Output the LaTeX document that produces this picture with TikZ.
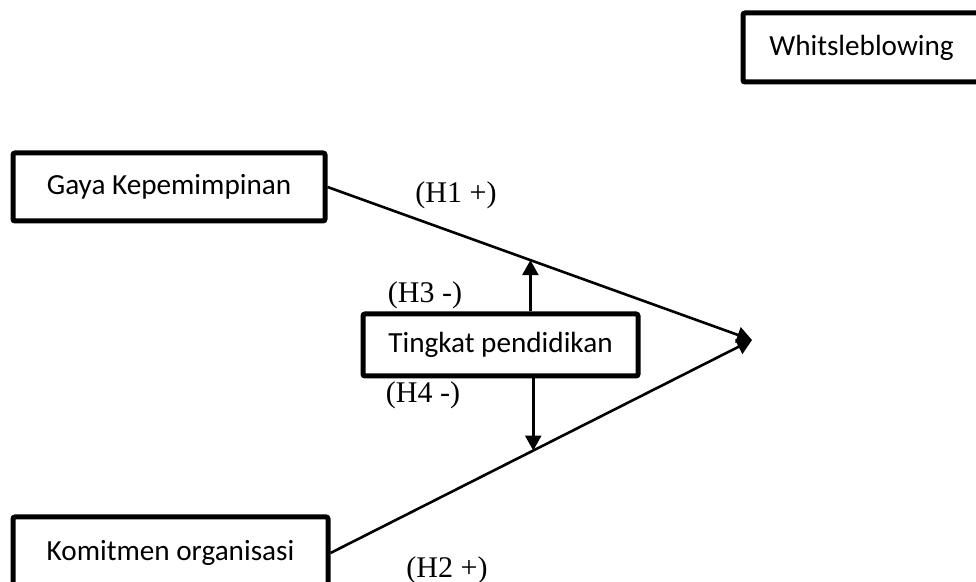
\documentclass[tikz,border=0pt]{standalone}
\usepackage{fontspec}
\setmainfont{Liberation Serif}
\newfontfamily\calibri{Carlito}
\usetikzlibrary{arrows.meta, calc}
\tikzset{
    varbox/.style={
        draw, line width=2.5pt, rounded corners=1pt, inner sep=0pt,
        font=\calibri\fontsize{14.6}{17}\selectfont
    },
    hyp/.style={
        inner sep=0pt, font=\fontsize{15}{18}\selectfont
    },
    link/.style={
        line width=1.3pt, -{Triangle[length=7.5pt, width=8pt]}
    }
}

\begin{document}
\begin{tikzpicture}[x=0.5pt, y=-0.5pt]

    \useasboundingbox (0,0) rectangle (976,582);

    \node[varbox, minimum width=118.5pt, minimum height=34.5pt]
    (whistle) at (861.5,47.5) {Whitsleblowing};

    \node[varbox, minimum width=156pt, minimum height=34pt]
    (gaya) at (169,187) {Gaya Kepemimpinan};

    \node[varbox, minimum width=137.5pt, minimum height=31pt]
    (tingkat) at (500.5,345) {Tingkat pendidikan};

    \node[varbox, minimum width=157.5pt, minimum height=36pt]
    (komit) at (170.5,553) {Komitmen organisasi};

    \coordinate (target) at (752,340);

    \draw[link]
    (gaya.east)
    --
    (target);

    \draw[link]
    (komit.east)
    --
    (target);

    % moderasi
    \coordinate (m1) at ($(gaya.east)!0.478!(target)$);
    \coordinate (m2) at ($(komit.east)!0.481!(target)$);

    \draw[link] (tingkat.north -| m1) -- (m1);
    \draw[link] (tingkat.south -| m2) -- (m2);

    \node[hyp] (h1) at (456,195) {(H1 +)};
    \node[hyp] (h3) at (425,295) {(H3 -)};
    \node[hyp] (h4) at (423,395) {(H4 -)};
    \node[hyp] (h2) at (447,570) {(H2 +)};

\end{tikzpicture}
\end{document}
